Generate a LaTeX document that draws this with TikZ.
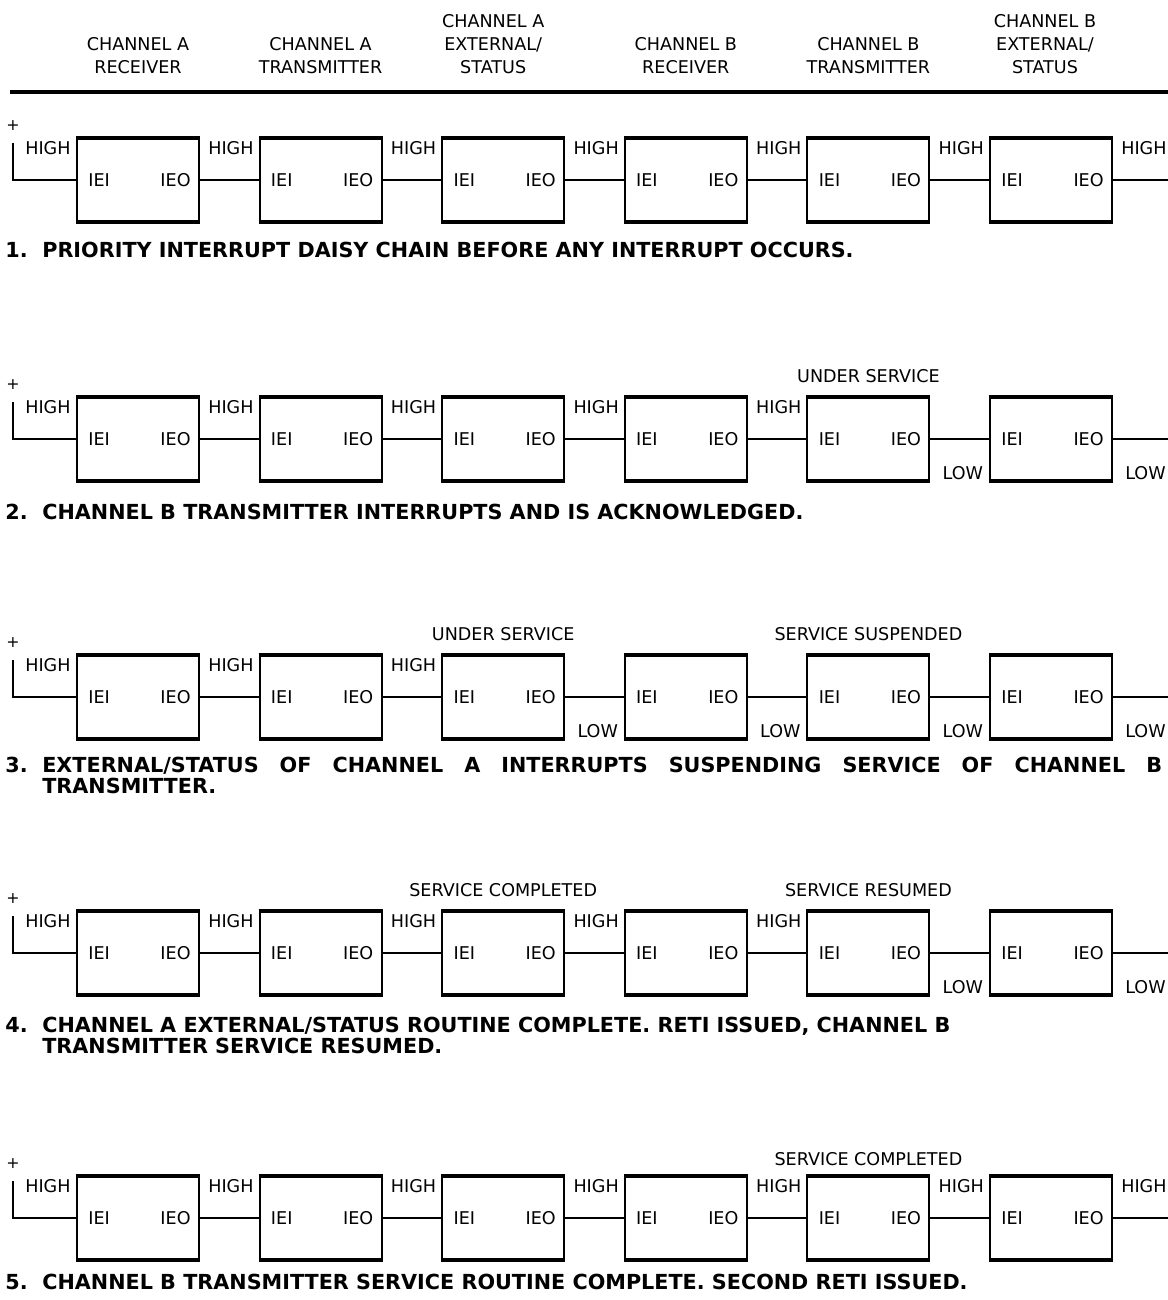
\documentclass[tikz,border=0pt]{standalone}
\usepackage{fontspec}
\setmainfont{DejaVu Sans}
\usetikzlibrary{calc,positioning}

\tikzset{
  chanbox/.style={draw, line width=1.1pt, minimum width=2.44cm, minimum height=1.64cm, inner sep=0pt},
  wire/.style={line width=1.5pt},
  pinlbl/.style={font=\fontsize{10}{12}\selectfont, inner sep=0pt},
  lvl/.style={font=\fontsize{10}{12}\selectfont, inner sep=0pt},
  statlbl/.style={font=\fontsize{10}{12}\selectfont, inner sep=0pt, anchor=south},
  headlbl/.style={font=\fontsize{10}{13}\selectfont, align=center, inner sep=0pt, anchor=south},
  caption/.style={font=\bfseries\fontsize{11.8}{12}\selectfont, align=left, inner sep=0pt, anchor=north west}
}

\begin{document}
\begin{tikzpicture}[x=0.02cm, y=-0.02cm]
    \useasboundingbox (0,0) rectangle (1168,1300);

    % Daisy chains, one per step
    \foreach \r/\y/\lv in {1/180/{1,1,1,1,1,1,1}, 2/439/{1,1,1,1,1,0,0}, 3/697/{1,1,1,0,0,0,0},
                           4/953/{1,1,1,1,1,0,0}, 5/1218/{1,1,1,1,1,1,1}} {
        % Channel blocks
        \foreach \i in {1,...,6} {
            \node[chanbox] (b-\r-\i) at ({138+182.6*(\i-1)}, \y) {};
            \draw[line width=2pt] (b-\r-\i.north west) -- (b-\r-\i.north east)
                                  (b-\r-\i.south west) -- (b-\r-\i.south east);
            \node[pinlbl, right=0.24cm of b-\r-\i.west] (iei-\r-\i) {IEI};
            \node[pinlbl, left=0.18cm of b-\r-\i.east] (ieo-\r-\i) {IEO};
        }

        % Chain wiring
        \coordinate (src-\r) at (13,\y-37);
        \coordinate (out-\r) at (1168,\y);
        \node[lvl, font=\fontsize{9}{10}\selectfont, above=0.25cm of src-\r] (plus-\r) {+};
        \draw[wire] (src-\r) |- (b-\r-1.west);
        \foreach \i [evaluate=\i as \n using int(\i+1)] in {1,...,5}
            \draw[wire] (b-\r-\i.east) -- (b-\r-\n.west);
        \draw[wire] (b-\r-6.east) -- (out-\r);

        % Levels on each link
        \foreach \s [count=\k from 0] in \lv {
            \ifnum\k=0
                \node[lvl, anchor=north west] (lv-\r-0) at (25,\y-39) {HIGH};
            \else
                \ifnum\s=1
                    \node[lvl, anchor=north west] (lv-\r-\k) at ($(b-\r-\k.north east)+(8,3)$) {HIGH};
                \else
                    \node[lvl, anchor=south west] (lv-\r-\k) at ($(b-\r-\k.south east)+(12,-1)$) {LOW};
                \fi
            \fi
        }
    }

    % Column headers
    \coordinate (hdr) at (0,74);
    \node[headlbl] (hd-1) at (b-1-1 |- hdr) {CHANNEL A\\RECEIVER};
    \node[headlbl] (hd-2) at (b-1-2 |- hdr) {CHANNEL A\\TRANSMITTER};
    \node[headlbl] (hd-3) at ($(b-1-3 |- hdr)+(-10,0)$) {CHANNEL A\\EXTERNAL/\\STATUS};
    \node[headlbl] (hd-4) at (b-1-4 |- hdr) {CHANNEL B\\RECEIVER};
    \node[headlbl] (hd-5) at (b-1-5 |- hdr) {CHANNEL B\\TRANSMITTER};
    \node[headlbl] (hd-6) at ($(b-1-6 |- hdr)+(-6,0)$) {CHANNEL B\\EXTERNAL/\\STATUS};
    \draw[line width=1.8pt] (10,92) -- (1168,92);

    % Service states
    \node[statlbl, above=0.28cm of b-2-5.north] (st-2-5) {UNDER SERVICE};
    \node[statlbl, above=0.28cm of b-3-3.north] (st-3-3) {UNDER SERVICE};
    \node[statlbl, above=0.28cm of b-3-5.north] (st-3-5) {SERVICE SUSPENDED};
    \node[statlbl, above=0.28cm of b-4-3.north] (st-4-3) {SERVICE COMPLETED};
    \node[statlbl, above=0.28cm of b-4-5.north] (st-4-5) {SERVICE RESUMED};
    \node[statlbl, above=0.2cm of b-5-5.north] (st-5-5) {SERVICE COMPLETED};

    % Step captions
    \node[caption] (cap-1) at (5,242) {\makebox[0.74cm][l]{1.}PRIORITY INTERRUPT DAISY CHAIN BEFORE ANY INTERRUPT OCCURS.};
    \node[caption] (cap-2) at (5,504) {\makebox[0.74cm][l]{2.}CHANNEL B TRANSMITTER INTERRUPTS AND IS ACKNOWLEDGED.};
    \node[caption] (cap-3) at (5,757) {\makebox[0.74cm][l]{3.}\makebox[22.4cm][s]{EXTERNAL/STATUS OF CHANNEL A INTERRUPTS SUSPENDING SERVICE OF CHANNEL B}\\
        \hspace*{0.74cm}TRANSMITTER.};
    \node[caption] (cap-4) at (5,1017) {\makebox[0.74cm][l]{4.}CHANNEL A EXTERNAL/STATUS ROUTINE COMPLETE. RETI ISSUED, CHANNEL B\\
        \hspace*{0.74cm}TRANSMITTER SERVICE RESUMED.};
    \node[caption] (cap-5) at (5,1274) {\makebox[0.74cm][l]{5.}CHANNEL B TRANSMITTER SERVICE ROUTINE COMPLETE. SECOND RETI ISSUED.};
\end{tikzpicture}
\end{document}
